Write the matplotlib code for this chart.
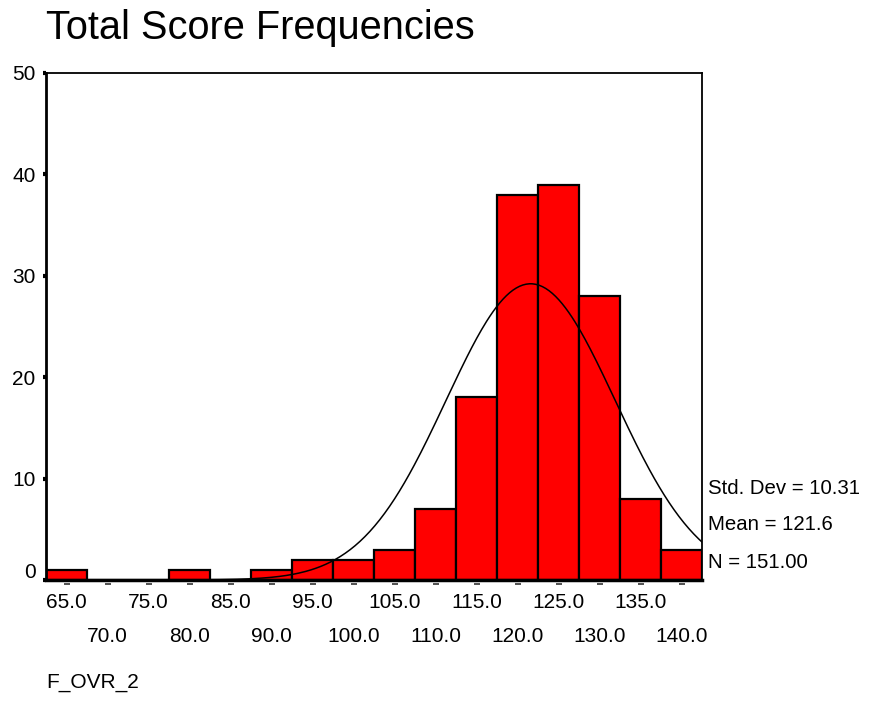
import numpy as np
import matplotlib
matplotlib.use("Agg")
import matplotlib.pyplot as plt
from matplotlib.transforms import blended_transform_factory, ScaledTranslation

# Data
bin_centers = [65, 70, 75, 80, 85, 90, 95, 100, 105, 110, 115, 120, 125, 130, 135, 140]
counts = [1, 0, 0, 1, 0, 1, 2, 2, 3, 7, 18, 38, 39, 28, 8, 3]
labels_row1 = ["65.0", "75.0", "85.0", "95.0", "105.0", "115.0", "125.0", "135.0"]
labels_row2 = ["70.0", "80.0", "90.0", "100.0", "110.0", "120.0", "130.0", "140.0"]
y_ticks = [0, 10, 20, 30, 40, 50]
std_dev = 10.31
mean = 121.6
n_obs = 151.00
bin_width = 5

plt.rcParams['font.family'] = ['Liberation Sans', 'DejaVu Sans']

fig = plt.figure(figsize=(8.69, 7.24), dpi=100)
ax = fig.add_axes([46/869, 1-580/724, (702-46)/869, (580-73)/724])

ax.bar(bin_centers, counts, width=bin_width, color='#FF0000', edgecolor='black',
       linewidth=1.6, zorder=2)

# Normal curve
xs = np.linspace(62.5, 142.5, 400)
ys = n_obs * bin_width / (std_dev * np.sqrt(2*np.pi)) * np.exp(-0.5*((xs-mean)/std_dev)**2)
ax.plot(xs, ys, color='black', linewidth=1.1, zorder=3)

ax.set_xlim(62.5, 142.5)
ax.set_ylim(0, 50)

for s in ['top', 'right']:
    ax.spines[s].set_linewidth(1.3)
ax.spines['left'].set_linewidth(2.0)
ax.spines['bottom'].set_linewidth(2.5)

ax.set_yticks(y_ticks)
ax.set_yticklabels([str(v) for v in y_ticks], fontsize=15)
ax.tick_params(axis='y', direction='out', length=2.5, width=3, pad=5)
ax.set_xticks([])
# SPSS places the "0" label slightly above the baseline
lbl0 = ax.get_yticklabels()[0]
lbl0.set_transform(lbl0.get_transform() + ScaledTranslation(0, 9/100, fig.dpi_scale_trans))

# x dash marks and staggered labels
trans = blended_transform_factory(ax.transData, ax.transAxes)
ax.plot(bin_centers, [-0.008]*len(bin_centers), linestyle='none', marker='_',
        markersize=4, markeredgewidth=1.2, color='#333333', transform=trans, clip_on=False)
for i, c in enumerate(bin_centers):
    if i % 2 == 0:
        ax.text(c, -0.045, labels_row1[i//2], transform=trans, ha='center', va='center', fontsize=15)
    else:
        ax.text(c, -0.112, labels_row2[i//2], transform=trans, ha='center', va='center', fontsize=15)

fig.text(46/869, 1-28/724, "Total Score Frequencies", fontsize=28.6, ha='left', va='center')
fig.text(46/869, 1-682/724, "F_OVR_2", fontsize=15, ha='left', va='center')

fig.text(708/869, 1-488/724, f"Std. Dev = {std_dev:.2f}", fontsize=14.7, ha='left', va='center')
fig.text(708/869, 1-525/724, f"Mean = {mean:.1f}", fontsize=14.7, ha='left', va='center')
fig.text(708/869, 1-562/724, f"N = {n_obs:.2f}", fontsize=14.7, ha='left', va='center')

fig.savefig("out.png", dpi=100, facecolor='white')
